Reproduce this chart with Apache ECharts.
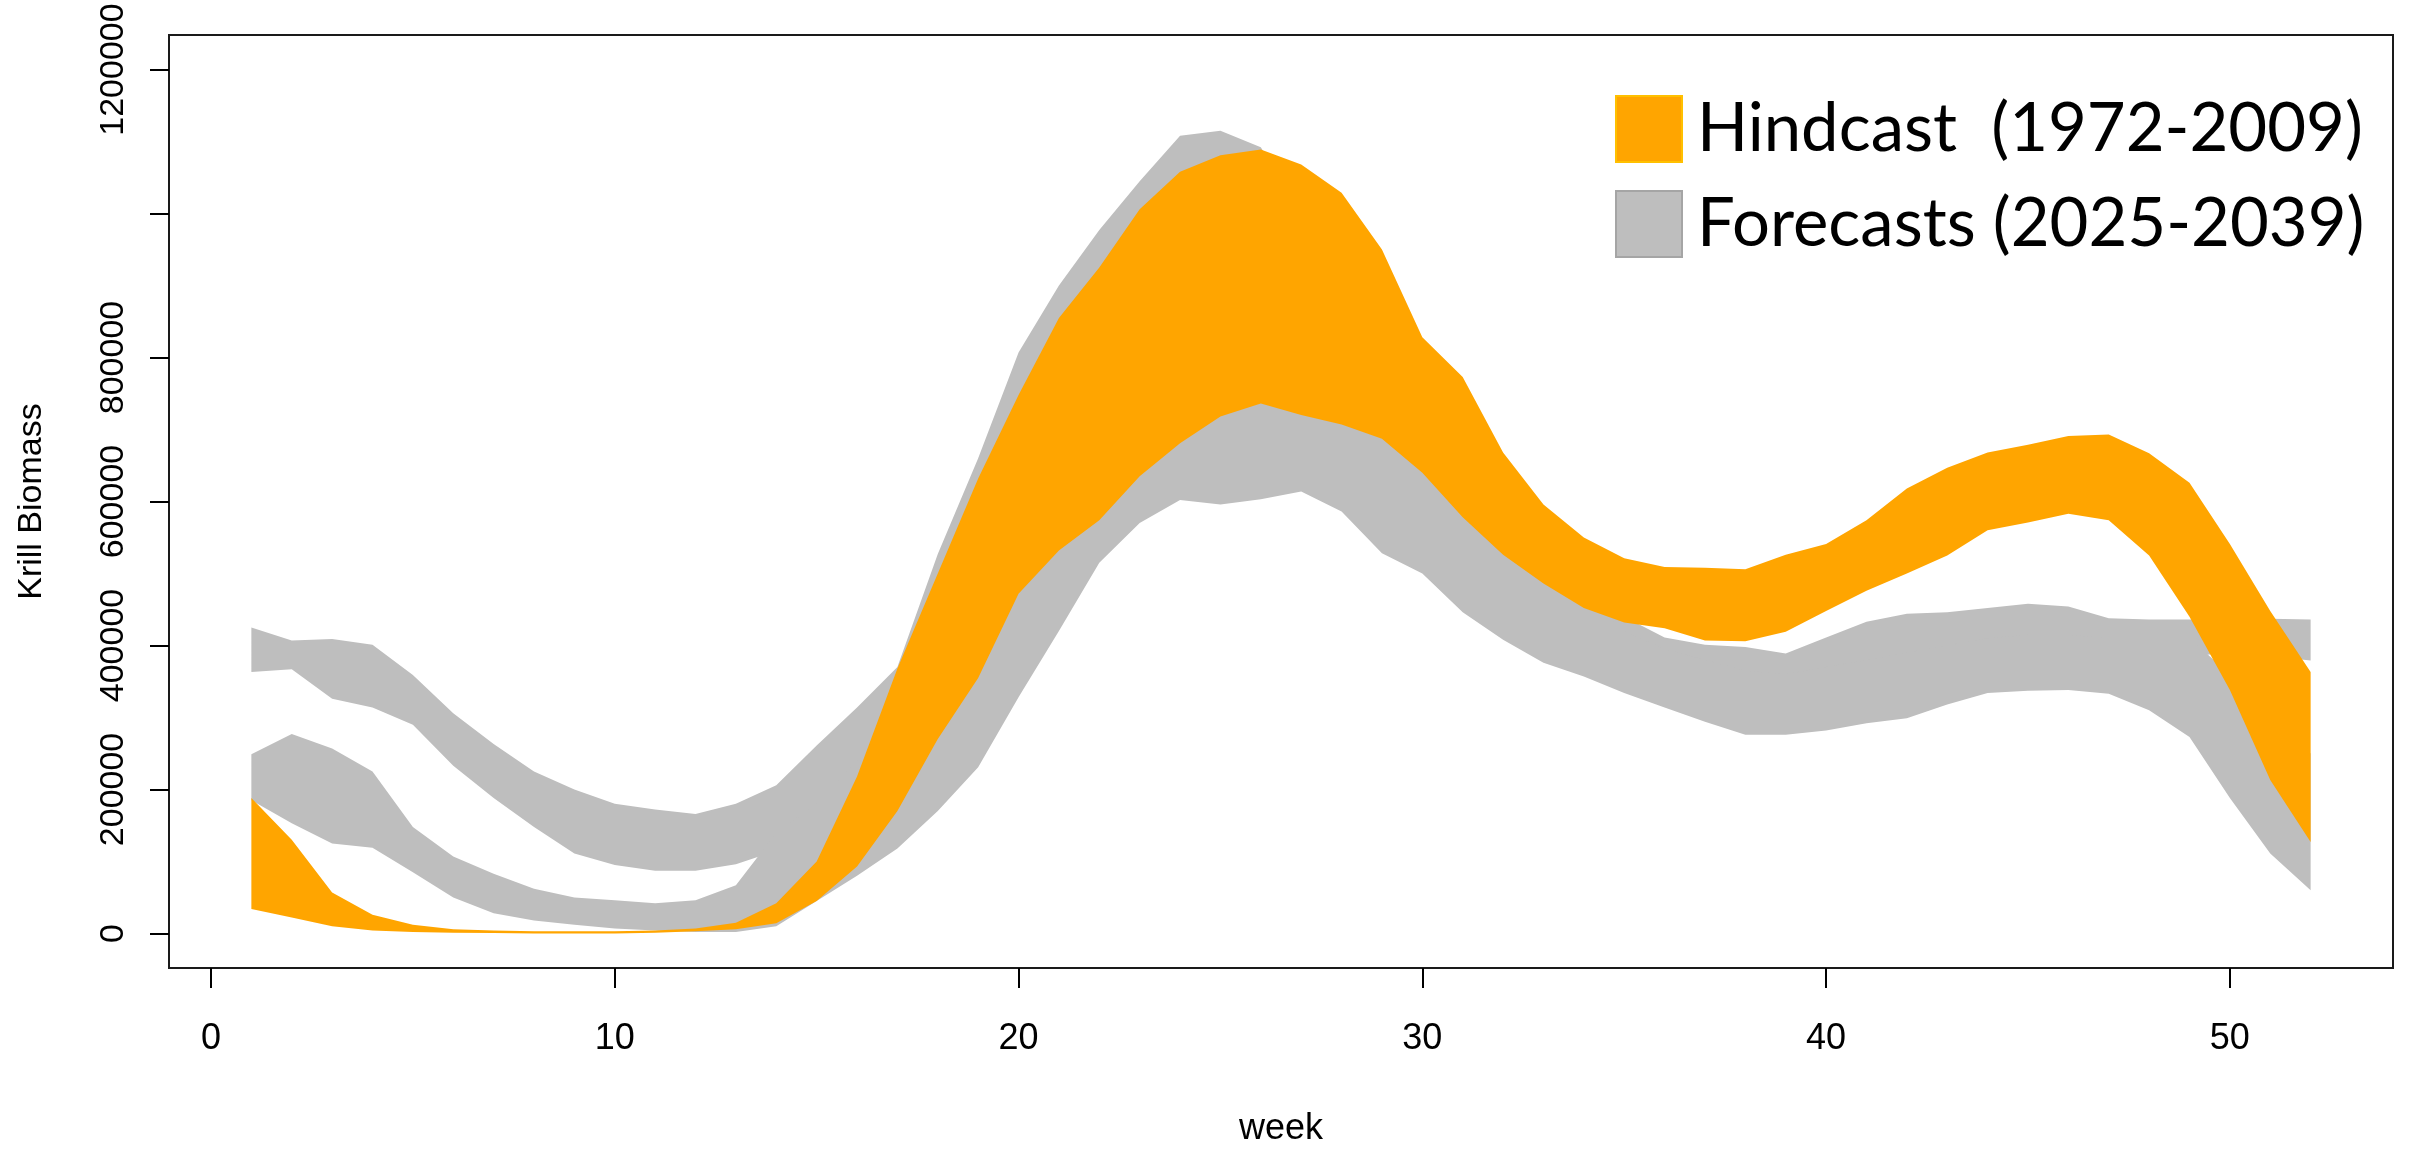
<!DOCTYPE html>
<html>
<head>
<meta charset="utf-8">
<title>Krill Biomass</title>
<script src="https://cdn.jsdelivr.net/npm/echarts/dist/echarts.min.js"></script>
<style>
html,body{margin:0;padding:0;background:#fff;}
#krill{width:2415px;height:1152px;}
</style>
</head>
<body>
<div id="krill"></div>
<script>
// weekly krill biomass bands, values in thousands
var weeks = [1,2,3,4,5,6,7,8,9,10,11,12,13,14,15,16,17,18,19,20,21,22,23,24,25,26,
	27,28,29,30,31,32,33,34,35,36,37,38,39,40,41,42,43,44,45,46,47,48,49,50,51,52];

var hindLo = [34,22,10,4,2,1,0.5,0,0,0, 1,3,6,14,45,93,170,270,355,472,
	532,574,635,681,718,736,720,707,687,640, 578,526,486,452,432,424,407,406,419,448,
	476,500,525,560,571,583,574,525,440,338, 213,127];
var hindHi = [188,130,57,26,12,6,4,3,3,3, 4,7,15,42,100,218,368,500,632,748,
	855,925,1006,1058,1081,1089,1068,1029,950,828, 773,668,596,550,521,509,508,506,526,541,
	574,618,647,668,679,691,693,667,626,541, 448,363];

// two forecast envelopes (upper one A, lower one B)
var foreALo = [363,367,326,314,290,233,188,148,111,95, 87,87,96,115,150,200,250,350,450,560,
	650,720,790,840,850,840,820,790,720,650, 590,530,480,440,400,380,360,345,340,350,
	360,370,380,390,395,395,390,385,385,390, 385,379];
var foreAHi = [425,407,409,401,359,306,263,225,200,180, 172,166,180,206,261,314,370,527,660,807,
	900,977,1045,1108,1115,1092,1000,950,850,750, 680,600,540,490,440,411,401,398,389,411,
	433,444,446,452,458,454,438,436,436,436, 437,436];
var foreBLo = [185,153,125,119,85,50,28,18,12,7, 4,2,2,10,45,80,118,170,231,328,
	420,515,570,602,596,603,614,586,528,500, 446,408,376,357,334,314,294,276,276,282,
	292,299,318,334,337,338,333,310,273,188, 111,60];
var foreBHi = [249,277,257,225,148,107,83,62,50,46, 42,46,67,140,180,240,290,390,500,600,
	690,760,820,870,880,870,850,820,750,680, 620,560,510,470,420,395,380,365,360,370,
	380,390,400,410,415,415,410,410,410,360, 300,250];

var xTicks = [0,10,20,30,40,50];
var yTicks = [0,200000,400000,600000,800000,1000000,1200000];
var yLabels = [0,200000,400000,600000,800000,1200000];

var hindName = 'Hindcast  (1972-2009)';
var foreName = 'Forecasts (2025-2039)';

function bandData(lo, hi){
	var rows = [];
	for(var i=0;i<weeks.length;i++){
		rows.push([weeks[i], lo[i]*1000, hi[i]*1000]);
	}
	return rows;
}

// one polygon per band, like polygon() in R
function bandRender(lo, hi, color){
	return function(params, api){
		if(params.dataIndex !== 0) return null;
		var pts = [];
		for(var i=0;i<weeks.length;i++) pts.push(api.coord([weeks[i], hi[i]*1000]));
		for(var j=weeks.length-1;j>=0;j--) pts.push(api.coord([weeks[j], lo[j]*1000]));
		return {type:'polygon', shape:{points:pts}, style:{fill:color, stroke:null}};
	};
}

function band(name, lo, hi, color){
	return {
		name: name,
		type: 'custom',
		renderItem: bandRender(lo, hi, color),
		itemStyle: {color: color},
		encode: {x:0, y:[1,2]},
		silent: true,
		data: bandData(lo, hi)
	};
}

var myChart = echarts.init(document.getElementById('krill'));
var option = {
	animation: false,
	grid: {
		left: 169, right: 22, top: 35, bottom: 165,
		show: true,
		borderColor: '#1a1a1a',
		borderWidth: 2
	},
	legend: {
		orient: 'vertical',
		left: 1610, top: 90,
		itemWidth: 66, itemHeight: 66, itemGap: 27,
		icon: 'rect',
		selectedMode: false,
		textStyle: {fontFamily: 'Lato', fontSize: 67, color: '#000', padding: [0,0,0,10]},
		data: [
			{name: hindName, itemStyle: {color: '#FFA500', borderColor: '#FFC000', borderWidth: 2}},
			{name: foreName, itemStyle: {color: '#BEBEBE', borderColor: '#A5A5A5', borderWidth: 2}}
		]
	},
	xAxis: {
		type: 'value',
		min: -1.04, max: 54.04,
		name: 'week',
		nameLocation: 'middle',
		nameGap: 143,
		nameTextStyle: {fontFamily: 'Liberation Sans', fontSize: 36, color: '#000'},
		axisLine: {show: false, onZero: false},
		axisTick: {show: true, length: 20, customValues: xTicks, lineStyle: {color: '#000', width: 2}},
		axisLabel: {
			customValues: xTicks, margin: 53,
			fontFamily: 'Liberation Sans', fontSize: 36, color: '#000',
			formatter: function(v){ return String(v); }
		},
		splitLine: {show: false}
	},
	yAxis: {
		type: 'value',
		min: -48000, max: 1248000,
		name: 'Krill Biomass',
		nameLocation: 'middle',
		nameGap: 120,
		nameTextStyle: {fontFamily: 'Liberation Sans', fontSize: 34, color: '#000'},
		axisLine: {show: false, onZero: false},
		axisTick: {show: true, length: 19, customValues: yTicks, lineStyle: {color: '#000', width: 2}},
		axisLabel: {
			customValues: yLabels, rotate: 90, margin: 38,
			fontFamily: 'Liberation Sans', fontSize: 34, color: '#000',
			formatter: function(v){ return String(v); }
		},
		splitLine: {show: false}
	},
	series: [
		band(foreName, foreALo, foreAHi, '#BEBEBE'),
		band(foreName, foreBLo, foreBHi, '#BEBEBE'),
		band(hindName, hindLo, hindHi, '#FFA500')
	]
};
myChart.setOption(option);
window.onresize = function(){ myChart.resize(); };
</script>
</body>
</html>
